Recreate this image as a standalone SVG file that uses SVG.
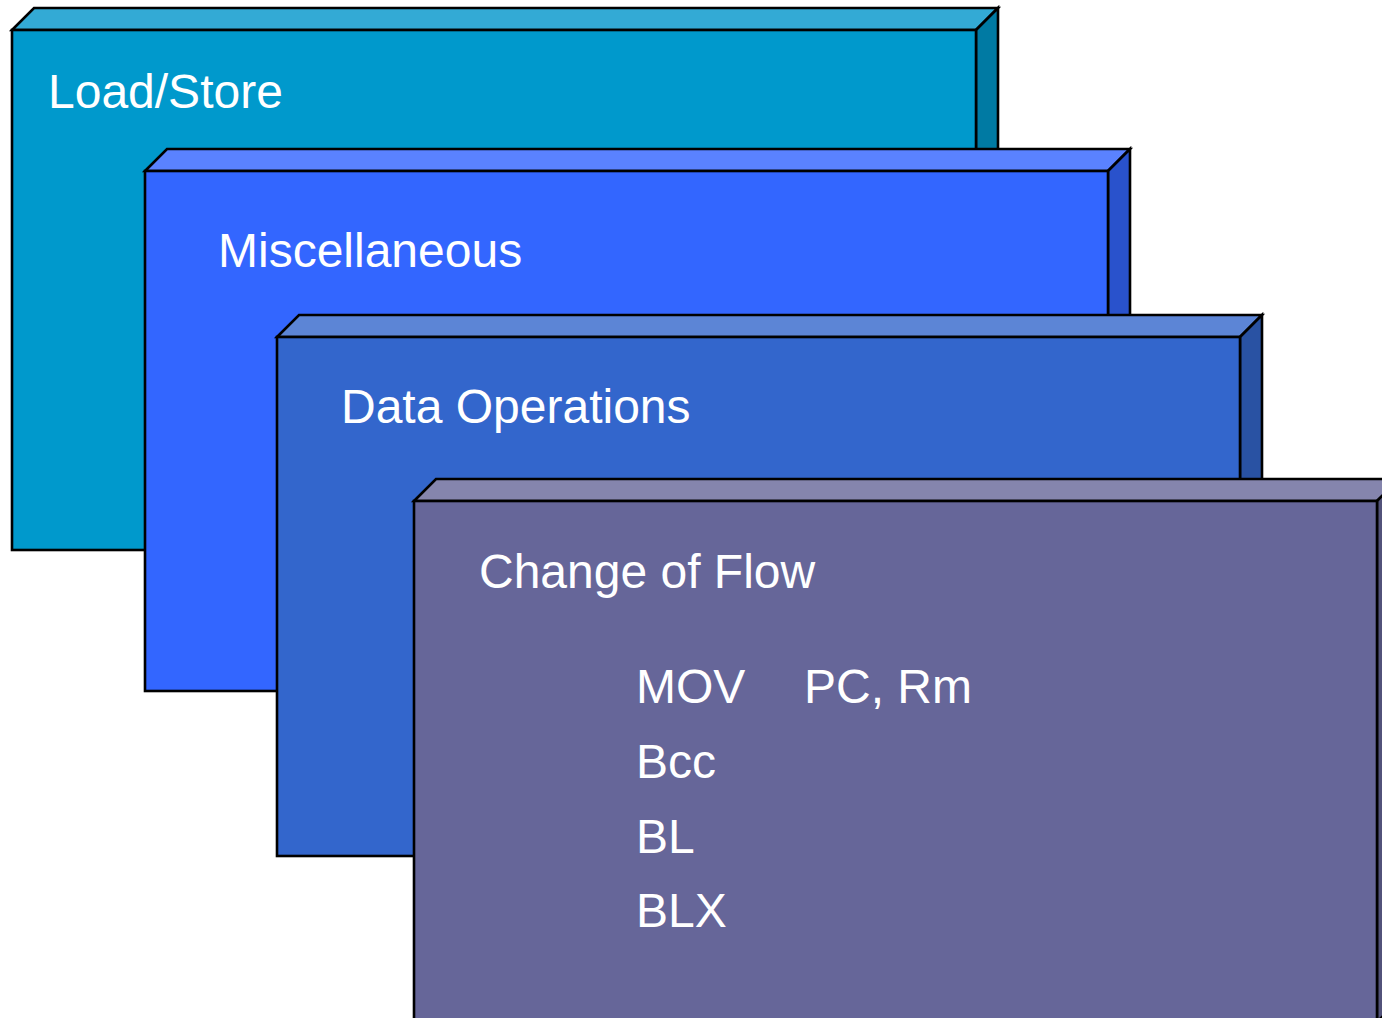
<svg xmlns="http://www.w3.org/2000/svg" width="1382" height="1018" viewBox="0 0 1382 1018">
  <style>
    .edge { stroke: #000; stroke-width: 2.6; stroke-linejoin: miter; }
    .label { font-family: "Liberation Sans", Arial, sans-serif; font-size: 48px; fill: #fff; }
  </style>
  <rect width="1382" height="1018" fill="#fff"/>

  <!-- Stacked 3D slabs, back to front -->
  <g id="load-store">
    <polygon class="edge" fill="#33AAD5" points="12,30 34,8 998,8 976,30"/>
    <polygon class="edge" fill="#007AA3" points="976,30 998,8 998,528 976,550"/>
    <rect class="edge" fill="#0099CC" x="12" y="30" width="964" height="520"/>
    <text class="label" x="48" y="108">Load/Store</text>
  </g>

  <g id="miscellaneous">
    <polygon class="edge" fill="#5A82FF" points="145,171 167,149 1130,149 1108,171"/>
    <polygon class="edge" fill="#2952CC" points="1108,171 1130,149 1130,669 1108,691"/>
    <rect class="edge" fill="#3366FF" x="145" y="171" width="963" height="520"/>
    <text class="label" x="218" y="267">Miscellaneous</text>
  </g>

  <g id="data-operations">
    <polygon class="edge" fill="#5C85D6" points="277,337 299,315 1262,315 1240,337"/>
    <polygon class="edge" fill="#2952A3" points="1240,337 1262,315 1262,834 1240,856"/>
    <rect class="edge" fill="#3366CC" x="277" y="337" width="963" height="519"/>
    <text class="label" x="341" y="423">Data Operations</text>
  </g>

  <g id="change-of-flow">
    <polygon class="edge" fill="#8585AD" points="414,501 436,479 1399,479 1377,501"/>
    <polygon class="edge" fill="#52527A" points="1377,501 1399,479 1399,1000 1377,1022"/>
    <rect class="edge" fill="#666699" x="414" y="501" width="963" height="530"/>
    <text class="label" x="479" y="588">Change of Flow</text>
    <text class="label" x="636" y="703">MOV</text>
    <text class="label" x="804" y="703">PC, Rm</text>
    <text class="label" x="636" y="778">Bcc</text>
    <text class="label" x="636" y="853">BL</text>
    <text class="label" x="636" y="927">BLX</text>
  </g>

  <g id="connectors"/>
</svg>
